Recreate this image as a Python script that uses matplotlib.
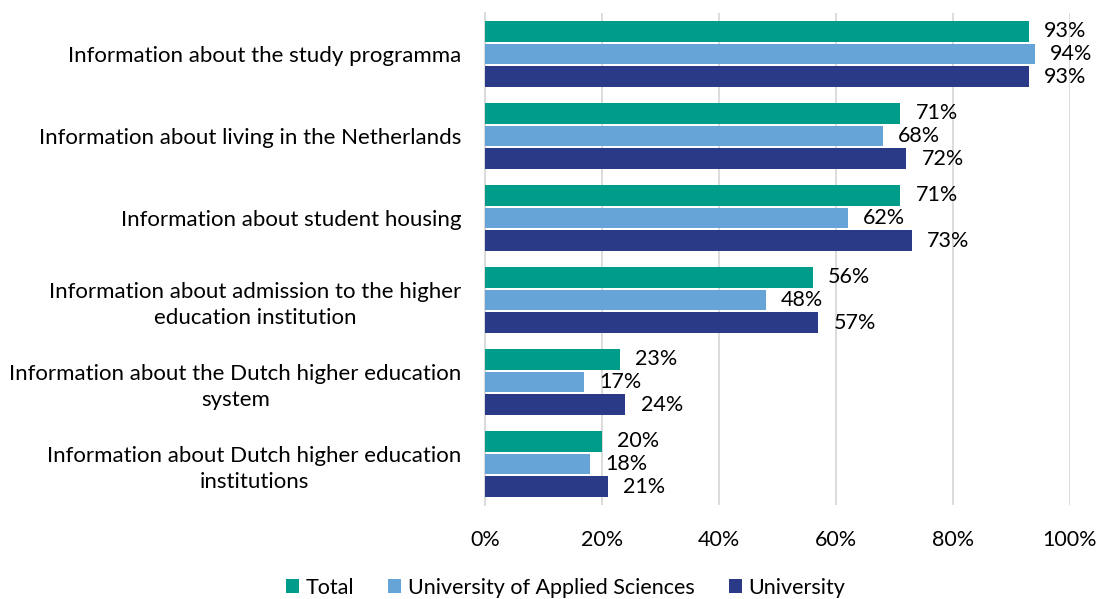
import matplotlib
matplotlib.use("Agg")
import matplotlib.pyplot as plt
import numpy as np

plt.rcParams['font.family'] = ['Lato', 'DejaVu Sans']

categories = [
    "Information about the study programma",
    "Information about living in the Netherlands",
    "Information about student housing",
    "Information about admission to the higher\neducation institution",
    "Information about the Dutch higher education\nsystem",
    "Information about Dutch higher education\ninstitutions",
]
series_names = ["Total", "University of Applied Sciences", "University"]
total = [93, 71, 71, 56, 23, 20]
uas = [94, 68, 62, 48, 17, 18]
university = [93, 72, 73, 57, 24, 21]
xticks = [0, 20, 40, 60, 80, 100]
xtick_labels = ["0%", "20%", "40%", "60%", "80%", "100%"]

colors = ["#009C8A", "#66A3D7", "#2B3A87"]

fig = plt.figure(figsize=(11, 5.99), dpi=100)
ax = fig.add_axes([485/1100, 94/599, 585/1100, 492/599])

y = np.arange(len(categories))
slot = 0.277
bh = 0.256
for i, (vals, name, c) in enumerate(zip([total, uas, university], series_names, colors)):
    pos = y + (i - 1) * slot
    ax.barh(pos, vals, height=bh, color=c, label=name, zorder=3)
    for p, v in zip(pos, vals):
        ax.text(v + 2.6, p, f"{v}%", va="center", ha="left", fontsize=15.5, color="#000000")

ax.set_ylim(len(categories) - 0.5, -0.5)
ax.set_xlim(0, 100)
ax.set_xticks(xticks)
ax.set_xticklabels(xtick_labels, fontsize=15.5)
ax.set_yticks(y)
ax.set_yticklabels(categories, fontsize=16, ha="right", multialignment="center",
                   linespacing=1.4)
ax.tick_params(axis="y", length=0, pad=17)
ax.tick_params(axis="x", length=0, pad=18)
ax.grid(axis="x", color="#D9D9D9", linewidth=1.3, zorder=0)
for s in ["top", "right", "bottom"]:
    ax.spines[s].set_visible(False)
ax.spines["left"].set_color("#D9D9D9")
ax.spines["left"].set_linewidth(1.3)

fig.legend(loc="lower center", bbox_to_anchor=(0.514, -0.03), ncol=3, frameon=False,
           fontsize=15.5, handlelength=0.6, handleheight=0.6, handletextpad=0.3,
           columnspacing=1.6)

fig.savefig("out.png", dpi=100)
